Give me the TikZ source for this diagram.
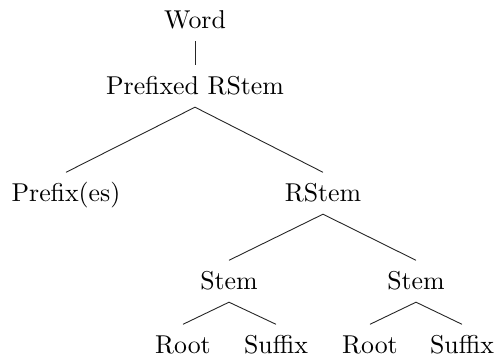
\documentclass[tikz,border=0pt]{standalone}
\newcommand{\bigtxt}[1]{\scalebox{2.58}{\fontsize{10}{12}\selectfont #1}}
\begin{document}
\begin{tikzpicture}[x=1pt,y=-1pt,
  lbl/.style={anchor=base,inner xsep=2pt,inner ysep=12pt,text height=17.5pt,text depth=0pt},
  edge/.style={line width=0.9pt,black!85}]
\useasboundingbox (0,0) rectangle (499,358);
\node[lbl] (word) at (195,29) {\bigtxt{Word}};
\node[lbl] (pre) at (195,95) {\bigtxt{Prefixed RStem}};
\node[lbl] (prefix) at (66,202) {\bigtxt{Prefix(es)}};
\node[lbl] (rstem) at (323,202) {\bigtxt{RStem}};
\node[lbl] (stemA) at (229,290) {\bigtxt{Stem}};
\node[lbl] (stemB) at (416,290) {\bigtxt{Stem}};
\node[lbl] (rootA) at (183,354) {\bigtxt{Root}};
\node[lbl] (sufA) at (276,354) {\bigtxt{Suffix}};
\node[lbl] (rootB) at (370,354) {\bigtxt{Root}};
\node[lbl] (sufB) at (462,354) {\bigtxt{Suffix}};
\draw[edge] (word.south) -- (pre.north);
\draw[edge] (prefix.north) -- (pre.south) -- (rstem.north);
\draw[edge] (stemA.north) -- (rstem.south) -- (stemB.north);
\draw[edge] (rootA.north) -- (stemA.south) -- (sufA.north);
\draw[edge] (rootB.north) -- (stemB.south) -- (sufB.north);
\end{tikzpicture}
\end{document}
